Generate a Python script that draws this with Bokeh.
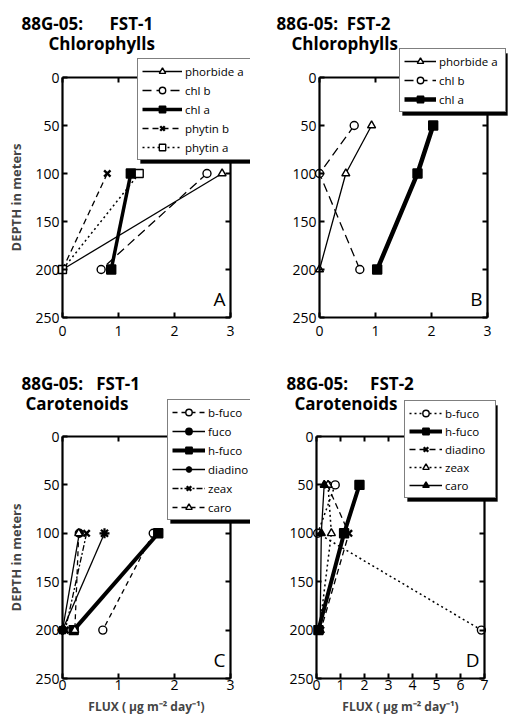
from bokeh.plotting import figure
from bokeh.models import Range1d, FixedTicker, LinearAxis, Legend, LegendItem, Label, BoxAnnotation
from bokeh.layouts import column, row
from bokeh.embed import file_html
from bokeh.resources import INLINE

# ---------------- data ----------------
y_ticks = [0, 50, 100, 150, 200, 250]
x_ticks_3 = [0, 1, 2, 3]
x_ticks_7 = [0, 1, 2, 3, 4, 5, 6, 7]

# Panel A: FST-1 chlorophylls
depth_A = [100, 200]
phorbide_a_A = [2.85, 0.0]
chl_b_A = [2.58, 0.69]
chl_a_A = [1.22, 0.87]
phytin_b_A = [0.80, 0.0]
phytin_a_A = [1.37, 0.0]

# Panel B: FST-2 chlorophylls
depth_B = [50, 100, 200]
phorbide_a_B = [0.93, 0.47, 0.0]
chl_b_B = [0.62, 0.0, 0.72]
chl_a_B = [2.03, 1.75, 1.03]

# Panel C: FST-1 carotenoids
depth_C = [100, 200]
b_fuco_C = [1.62, 0.72]
fuco_C = [0.30, 0.0]
h_fuco_C = [1.71, 0.20]
diadino_C = [0.75, 0.0]
zeax_C = [0.43, 0.05]
caro_C = [0.29, 0.22]

# Panel D: FST-2 carotenoids
depth_D = [50, 100, 200]
b_fuco_D = [0.78, 0.05, 6.87]
h_fuco_D = [1.79, 1.15, 0.08]
diadino_D = [0.45, 1.35, 0.18]
zeax_D = [0.48, 0.62, 0.12]
caro_D = [0.32, 0.20, 0.15]

FONT = "Open Sans"
NB = "\u00a0"
FLUX = "FLUX ( \u00b5g m\u207b\u00b2 day\u207b\u00b9)"


def style_axis(ax, show_labels):
    ax.axis_line_width = 2.2
    ax.axis_line_color = "black"
    ax.major_tick_in = 5
    ax.major_tick_out = 0
    ax.major_tick_line_width = 2
    ax.minor_tick_line_color = None
    ax.major_label_text_font = FONT
    ax.major_label_text_font_size = "14px"
    ax.major_label_text_color = "black" if show_labels else None


def make_fig(W, H, bx0, bx1, by0, by1, xmax, xticks, xlabel=None, ylabel=None, xstand=8):
    """bx0/bx1: pixel columns of x=0 / x=xmax; by0/by1: pixel rows (from top) of depth 0 / 250."""
    sx = (bx1 - bx0) / xmax
    sy = (by1 - by0) / 250.0
    x_range = Range1d(-bx0 / sx, xmax + (W - bx1) / sx)
    y_range = Range1d(250 + (H - by1) / sy, -by0 / sy)
    p = figure(width=W, height=H, x_range=x_range, y_range=y_range,
               output_backend="svg", toolbar_location=None,
               x_axis_location=None, y_axis_location=None,
               min_border=0, min_border_left=0, min_border_right=0,
               min_border_top=0, min_border_bottom=0)
    p.grid.visible = False
    p.outline_line_color = None
    p.background_fill_color = "white"
    p.border_fill_color = "white"

    left = LinearAxis(ticker=FixedTicker(ticks=y_ticks), fixed_location=0, bounds=(0, 250))
    right = LinearAxis(ticker=FixedTicker(ticks=y_ticks), fixed_location=xmax, bounds=(0, 250))
    bottom = LinearAxis(ticker=FixedTicker(ticks=xticks), fixed_location=250, bounds=(0, xmax))
    top = LinearAxis(ticker=FixedTicker(ticks=xticks), fixed_location=0, bounds=(0, xmax))
    style_axis(left, True)
    style_axis(bottom, True)
    style_axis(right, False)
    style_axis(top, False)
    left.major_label_standoff = 3
    bottom.major_label_standoff = xstand
    if xlabel:
        bottom.axis_label = xlabel
        bottom.axis_label_text_font = FONT
        bottom.axis_label_text_font_size = "12px"
        bottom.axis_label_text_font_style = "bold"
        bottom.axis_label_standoff = 5
    if ylabel:
        left.axis_label = ylabel
        left.axis_label_text_font = FONT
        left.axis_label_text_font_size = "13px"
        left.axis_label_text_font_style = "bold"
        left.axis_label_standoff = 7
    p.add_layout(left, "left")
    p.add_layout(right, "right")
    p.add_layout(bottom, "below")
    p.add_layout(top, "above")
    p._H = H
    return p


def series(p, xs, ys, dash, lw, marker, msize, fill, mlw=1.4):
    r1 = p.line(xs, ys, line_color="black", line_width=lw, line_dash=dash)
    r2 = p.scatter(xs, ys, marker=marker, size=msize, line_color="black",
                   fill_color=fill, line_width=mlw)
    return [r1, r2]


def add_legend(p, items, left_px, bottom_px_from_top, glyph_width, glyph_height, spacing,
               label_width):
    pad, standoff = 4, 3
    x = left_px
    y = p._H - bottom_px_from_top
    n = len(items)
    w = 2 * pad + glyph_width + standoff + label_width
    h = 2 * pad + n * glyph_height + (n - 1) * spacing
    # drop shadow behind the legend box
    p.add_layout(BoxAnnotation(left=x + 3, right=x + 3 + w, bottom=y - 3, top=y - 3 + h,
                               left_units="screen", right_units="screen",
                               bottom_units="screen", top_units="screen",
                               fill_color="black", fill_alpha=1, line_color="black",
                               line_width=1))
    leg = Legend(items=[LegendItem(label=l, renderers=r) for l, r in items],
                 location=(x, y), margin=0, padding=pad, spacing=spacing,
                 glyph_width=glyph_width, glyph_height=glyph_height,
                 label_height=glyph_height, label_width=label_width,
                 label_standoff=standoff, label_text_font=FONT, label_text_font_size="11.5px",
                 label_text_color="black", background_fill_color="white",
                 background_fill_alpha=1, border_line_color="black", border_line_width=1.5)
    p.add_layout(leg, "center")


def add_text(p, text, x_px, y_px_from_top, size="17px", style="bold"):
    p.add_layout(Label(x=x_px, y=p._H - y_px_from_top, x_units="screen", y_units="screen",
                       text=text, text_font=FONT, text_font_size=size, text_font_style=style,
                       text_baseline="middle", text_align="left", text_color="black"))


def add_corner(p, xmax, letter):
    p.add_layout(Label(x=xmax, y=250, x_offset=-5, y_offset=6, text=letter,
                       text_font=FONT, text_font_size="19px", text_align="right",
                       text_baseline="bottom", text_color="black"))


# ---------------- Panel A ----------------
pA = make_fig(250, 350, 62, 230, 77, 317, 3, x_ticks_3, ylabel="DEPTH in meters")
itA = [
    ("phorbide a", series(pA, phorbide_a_A, depth_A, "solid", 1.3, "triangle", 8, "white")),
    ("chl b", series(pA, chl_b_A, depth_A, "9 5", 1.3, "circle", 8, "white")),
    ("chl a", series(pA, chl_a_A, depth_A, "solid", 3.5, "square", 9, "black")),
    ("phytin b", series(pA, phytin_b_A, depth_A, "6 4", 1.3, "x", 9, "black", 2.4)),
    ("phytin a", series(pA, phytin_a_A, depth_A, "2 3", 1.5, "square", 8, "white")),
]
add_legend(pA, itA, 137, 160, 40, 16, 3, 64)
add_text(pA, "88G-05:" + NB * 6 + "FST-1", 21, 23)
add_text(pA, "Chlorophylls", 48, 43)
add_corner(pA, 3, "A")

# ---------------- Panel B ----------------
pB = make_fig(258, 350, 69, 237, 77, 317, 3, x_ticks_3)
itB = [
    ("phorbide a", series(pB, phorbide_a_B, depth_B, "solid", 1.3, "triangle", 8, "white")),
    ("chl b", series(pB, chl_b_B, depth_B, "9 5", 1.3, "circle", 8, "white")),
    ("chl a", series(pB, chl_a_B, depth_B, "solid", 4.5, "square", 9, "black")),
]
add_legend(pB, itB, 149, 112, 32, 16, 3, 62)
add_text(pB, "88G-05:" + NB * 2 + "FST-2", 26, 23)
add_text(pB, "Chlorophylls", 41, 43)
add_corner(pB, 3, "B")

# ---------------- Panel C ----------------
pC = make_fig(250, 364, 62, 230, 86, 328, 3, x_ticks_3, xlabel=FLUX,
              ylabel="DEPTH in meters", xstand=1)
itC = [
    ("b-fuco", series(pC, b_fuco_C, depth_C, "5 4", 1.3, "circle", 8, "white")),
    ("fuco", series(pC, fuco_C, depth_C, "solid", 1.3, "circle", 8, "black")),
    ("h-fuco", series(pC, h_fuco_C, depth_C, "solid", 4.0, "square", 9, "black")),
    ("diadino", series(pC, diadino_C, depth_C, "solid", 1.3, "asterisk", 10, "black", 2.2)),
    ("zeax", series(pC, zeax_C, depth_C, "6 2 2 2", 1.3, "x", 9, "black", 2.4)),
    ("caro", series(pC, caro_C, depth_C, "5 4", 1.3, "triangle", 8, "white")),
]
add_legend(pC, itC, 167, 170, 33, 16, 3, 44)
add_text(pC, "88G-05:" + NB * 3 + "FST-1", 21, 33)
add_text(pC, "Carotenoids", 25, 53)
add_corner(pC, 3, "C")

# ---------------- Panel D ----------------
pD = make_fig(258, 364, 66, 234, 86, 328, 7, x_ticks_7, xlabel=FLUX, xstand=1)
itD = [
    ("b-fuco", series(pD, b_fuco_D, depth_D, "2 3", 1.5, "circle", 8, "white")),
    ("h-fuco", series(pD, h_fuco_D, depth_D, "solid", 4.0, "square", 9, "black")),
    ("diadino", series(pD, diadino_D, depth_D, "6 4", 1.3, "x", 9, "black", 2.4)),
    ("zeax", series(pD, zeax_D, depth_D, "2 3", 1.5, "triangle", 8, "white")),
    ("caro", series(pD, caro_D, depth_D, "solid", 1.3, "triangle", 8, "black")),
]
add_legend(pD, itD, 154, 148, 33, 16, 2, 46)
add_text(pD, "88G-05:" + NB * 5 + "FST-2", 36, 33)
add_text(pD, "Carotenoids", 44, 53)
add_corner(pD, 7, "D")

layout = column(row(pA, pB), row(pC, pD))
open("out.html", "w").write(file_html(layout, INLINE))
